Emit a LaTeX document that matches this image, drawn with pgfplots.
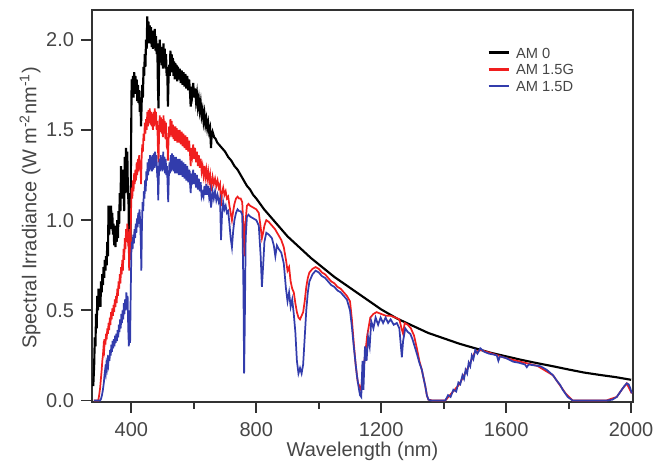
\documentclass[border=0pt]{standalone}
\usepackage{fontspec}
\setmainfont{Liberation Sans}
\usepackage{pgfplots}
\pgfplotsset{compat=1.18}
\usetikzlibrary{calc}
\definecolor{txtgray}{RGB}{70,70,70}
\definecolor{axgray}{RGB}{50,50,50}
\definecolor{amred}{RGB}{240,30,30}
\definecolor{amblue}{RGB}{50,60,172}
\begin{document}
\begin{tikzpicture}
\begin{axis}[
  scale only axis, width=405.75pt, height=294pt,
  xmin=274, xmax=2006, ymin=-0.008, ymax=2.165,
  xtick={400,800,1200,1600,2000},
  minor xtick={600,1000,1400,1800},
  ytick={0,0.5,1,1.5,2},
  yticklabel style={/pgf/number format/.cd, fixed, fixed zerofill, precision=1},
  /pgf/number format/assume math mode=true,
  xticklabel style={/pgf/number format/1000 sep={}},
  tick align=outside, xtick pos=bottom, ytick pos=left,
  major tick length=8pt, minor tick length=5pt,
  xticklabel shift=4pt, yticklabel shift=2pt,
  tick style={axgray, line width=1.4pt},
  axis line style={axgray, line width=1pt},
  tick label style={font=\fontsize{15}{18}\selectfont, text=txtgray},
  label style={font=\fontsize{15}{18}\selectfont, text=txtgray},
  xlabel={Wavelength (nm)},
  ylabel={Spectral Irradiance (W m\textsuperscript{-2}nm\textsuperscript{-1})},
  xlabel style={at={(axis description cs:0.5,-0.125)}, anchor=center},
  ylabel style={at={(axis description cs:-0.1146,0.495)}, anchor=center},
  legend style={at={(axis description cs:0.73,0.905)}, anchor=north west, draw=none, fill=none,
    font=\fontsize{11}{13}\selectfont, text=txtgray, row sep=4.5pt, inner sep=0pt,
    nodes={inner sep=0pt, text height=8pt, text depth=0pt},
    /tikz/every odd column/.append style={column sep=4pt}},
  legend cell align=left,
  legend image code/.code={\draw[#1, line width=2pt] (0cm,0cm) -- (0.55cm,0cm);},
]
\addplot[black, line width=1.6pt] coordinates {
(278,0.08)(281,0.20)(283,0.35)(285,0.30)(287,0.48)(289,0.40)(291,0.58)(293,0.50)(295,0.62)(297,0.55)(299,0.60)(301,0.52)(303,0.66)(305,0.60)(307,0.70)(309,0.64)(311,0.74)(313,0.68)(315,0.78)(317,0.72)(319,0.80)(321,0.75)(323,0.88)(325,0.80)(327,1.08)(329,0.92)(331,1.05)(333,0.98)(335,1.08)(337,0.95)(339,1.04)(341,0.92)(343,0.98)(345,0.86)(347,0.95)(349,0.85)(351,0.97)(353,0.88)(355,1.00)(357,0.90)(359,1.05)(361,0.98)(363,1.15)(365,1.05)(367,1.30)(369,1.18)(371,1.28)(373,1.12)(375,1.22)(377,1.05)(379,1.35)(381,1.15)(383,1.40)(385,1.22)(387,1.38)(389,1.15)(391,1.10)(393,0.80)(395,1.15)(397,0.82)(399,1.40)(401,1.78)(403,1.70)(405,1.80)(407,1.68)(409,1.82)(411,1.72)(413,1.80)(415,1.70)(417,1.78)(419,1.66)(421,1.75)(423,1.65)(425,1.72)(427,1.60)(429,1.68)(431,1.52)(433,1.65)(435,1.75)(437,1.68)(439,1.85)(441,1.80)(443,1.92)(445,1.85)(447,2.00)(449,1.95)(451,2.13)(453,2.02)(455,2.10)(457,1.98)(459,2.08)(461,2.00)(463,2.07)(465,1.96)(467,2.05)(469,1.95)(471,2.04)(473,1.96)(475,2.06)(477,1.94)(479,2.02)(481,1.92)(483,1.98)(485,1.75)(487,1.62)(489,1.90)(491,2.00)(493,1.88)(495,1.96)(497,1.86)(499,1.94)(501,1.84)(503,1.98)(505,1.86)(507,1.95)(509,1.84)(511,1.92)(513,1.80)(515,1.85)(517,1.63)(519,1.78)(521,1.86)(523,1.80)(525,1.94)(527,1.84)(529,1.92)(531,1.82)(533,1.90)(535,1.80)(537,1.88)(539,1.78)(541,1.87)(543,1.78)(545,1.86)(547,1.77)(549,1.85)(552,1.78)(555,1.84)(558,1.76)(561,1.83)(564,1.75)(567,1.82)(570,1.74)(573,1.81)(576,1.73)(579,1.80)(582,1.72)(585,1.78)(588,1.70)(590,1.63)(592,1.74)(595,1.70)(598,1.76)(601,1.68)(604,1.73)(607,1.66)(610,1.70)(613,1.63)(616,1.67)(619,1.61)(622,1.65)(625,1.58)(628,1.61)(631,1.55)(634,1.59)(637,1.53)(640,1.56)(643,1.51)(646,1.54)(649,1.49)(652,1.51)(655,1.40)(657,1.47)(660,1.49)(665,1.46)(670,1.45)(675,1.43)(680,1.42)(690,1.40)(700,1.38)(710,1.35)(720,1.33)(730,1.30)(740,1.28)(750,1.25)(760,1.22)(770,1.19)(780,1.17)(790,1.14)(800,1.12)(825,1.06)(850,1.01)(875,0.96)(900,0.91)(925,0.87)(950,0.83)(975,0.79)(1000,0.755)(1025,0.72)(1050,0.685)(1075,0.655)(1100,0.625)(1125,0.595)(1150,0.565)(1175,0.535)(1200,0.505)(1225,0.48)(1250,0.455)(1275,0.435)(1300,0.415)(1325,0.395)(1350,0.375)(1400,0.345)(1450,0.315)(1500,0.29)(1550,0.265)(1600,0.245)(1650,0.225)(1700,0.207)(1750,0.19)(1800,0.172)(1850,0.155)(1900,0.142)(1950,0.13)(2000,0.115)
};
\addlegendentry{AM 0}
\addplot[amred, line width=1.3pt] coordinates {
(280,0)(294,0)(297,0.03)(300,0.07)(303,0.13)(305,0.17)(307,0.22)(309,0.25)(311,0.30)(313,0.28)(315,0.34)(317,0.31)(319,0.37)(321,0.34)(323,0.40)(325,0.37)(327,0.43)(329,0.39)(331,0.46)(333,0.42)(335,0.49)(337,0.45)(339,0.51)(341,0.47)(343,0.53)(345,0.49)(347,0.56)(349,0.52)(351,0.58)(353,0.54)(355,0.62)(357,0.58)(359,0.66)(361,0.62)(363,0.70)(365,0.65)(367,0.74)(369,0.70)(371,0.78)(373,0.72)(375,0.84)(377,0.78)(379,0.90)(381,0.84)(383,0.95)(385,0.88)(387,0.98)(389,0.90)(391,0.92)(393,0.72)(395,0.95)(397,0.78)(399,1.05)(401,1.18)(403,1.12)(405,1.22)(407,1.16)(409,1.26)(411,1.20)(413,1.28)(415,1.22)(417,1.32)(419,1.25)(421,1.34)(423,1.27)(425,1.36)(427,1.28)(429,1.32)(431,1.20)(433,1.35)(435,1.42)(437,1.38)(439,1.48)(441,1.44)(443,1.54)(445,1.48)(447,1.56)(449,1.50)(451,1.60)(453,1.52)(455,1.61)(457,1.54)(459,1.62)(461,1.53)(463,1.60)(465,1.52)(467,1.59)(469,1.50)(471,1.60)(473,1.52)(475,1.62)(477,1.53)(479,1.60)(481,1.50)(483,1.55)(485,1.40)(487,1.32)(489,1.50)(491,1.58)(493,1.49)(495,1.57)(497,1.48)(499,1.56)(501,1.46)(503,1.58)(505,1.48)(507,1.55)(509,1.45)(511,1.54)(513,1.44)(515,1.46)(517,1.33)(519,1.44)(521,1.52)(523,1.46)(525,1.56)(527,1.47)(529,1.55)(531,1.46)(533,1.53)(535,1.45)(537,1.52)(539,1.44)(541,1.52)(543,1.44)(545,1.51)(547,1.43)(549,1.50)(552,1.43)(555,1.50)(558,1.42)(561,1.49)(564,1.41)(567,1.48)(570,1.40)(573,1.47)(576,1.39)(579,1.46)(582,1.38)(585,1.44)(588,1.36)(590,1.30)(592,1.40)(595,1.36)(598,1.42)(601,1.34)(604,1.40)(607,1.32)(610,1.38)(613,1.30)(616,1.36)(619,1.29)(622,1.34)(625,1.27)(628,1.30)(631,1.25)(634,1.30)(637,1.24)(640,1.28)(643,1.23)(646,1.27)(649,1.22)(652,1.25)(655,1.16)(657,1.20)(660,1.24)(664,1.20)(668,1.23)(672,1.19)(676,1.22)(680,1.18)(684,1.20)(687,1.08)(690,1.15)(694,1.18)(698,1.14)(702,1.16)(706,1.12)(710,1.13)(714,1.08)(718,1.04)(722,1.00)(726,1.05)(730,1.09)(735,1.12)(740,1.13)(745,1.12)(750,1.12)(755,1.10)(759,0.95)(762,0.80)(765,0.98)(770,1.08)(775,1.09)(780,1.08)(790,1.07)(800,1.06)(808,1.04)(814,0.96)(818,0.90)(822,0.93)(826,0.97)(832,1.00)(840,0.99)(850,0.97)(860,0.95)(870,0.92)(880,0.89)(888,0.85)(895,0.78)(900,0.72)(905,0.74)(910,0.66)(915,0.62)(920,0.60)(925,0.54)(930,0.49)(935,0.46)(940,0.45)(945,0.47)(950,0.49)(955,0.55)(960,0.63)(965,0.68)(970,0.71)(980,0.73)(990,0.74)(1000,0.73)(1010,0.71)(1020,0.70)(1030,0.68)(1040,0.66)(1050,0.65)(1060,0.63)(1070,0.62)(1080,0.60)(1090,0.58)(1100,0.55)(1106,0.45)(1112,0.32)(1118,0.20)(1125,0.10)(1135,0.06)(1145,0.20)(1155,0.36)(1165,0.46)(1175,0.48)(1185,0.49)(1200,0.48)(1215,0.47)(1230,0.47)(1245,0.46)(1258,0.45)(1265,0.40)(1270,0.37)(1275,0.43)(1285,0.42)(1295,0.40)(1305,0.36)(1314,0.29)(1322,0.22)(1330,0.17)(1336,0.12)(1341,0.08)(1346,0.03)(1351,0.005)(1365,0)(1405,0)(1420,0.03)(1450,0.09)(1480,0.19)(1500,0.27)(1520,0.28)(1600,0.235)(1700,0.192)(1750,0.14)(1790,0.04)(1813,0)(1920,0)(1954,0.02)(1970,0.06)(1986,0.095)(2002,0.04)
};
\addlegendentry{AM 1.5G}
\addplot[amblue, line width=1.3pt] coordinates {
(280,0)(300,0)(303,0.01)(306,0.03)(309,0.06)(312,0.10)(314,0.14)(316,0.17)(318,0.15)(320,0.20)(322,0.18)(324,0.22)(326,0.20)(328,0.25)(330,0.22)(332,0.28)(334,0.25)(336,0.31)(338,0.27)(340,0.33)(342,0.29)(344,0.34)(346,0.30)(348,0.36)(350,0.32)(352,0.37)(354,0.33)(356,0.39)(358,0.35)(360,0.42)(362,0.38)(364,0.45)(366,0.40)(368,0.48)(370,0.43)(372,0.50)(374,0.45)(376,0.54)(378,0.48)(380,0.56)(382,0.50)(384,0.60)(386,0.52)(388,0.58)(390,0.40)(392,0.30)(394,0.50)(396,0.32)(398,0.60)(400,0.82)(402,0.88)(404,0.84)(406,0.92)(408,0.87)(410,0.95)(412,0.90)(414,0.98)(416,0.93)(418,1.01)(420,0.96)(422,1.04)(424,0.98)(426,1.06)(428,1.00)(430,0.90)(432,0.72)(434,0.98)(436,1.10)(438,1.05)(440,1.16)(442,1.12)(444,1.22)(446,1.16)(448,1.27)(450,1.22)(452,1.32)(454,1.25)(456,1.34)(458,1.27)(460,1.36)(462,1.28)(464,1.35)(466,1.27)(468,1.36)(470,1.28)(472,1.37)(474,1.29)(476,1.38)(478,1.30)(480,1.36)(482,1.28)(484,1.30)(486,1.11)(488,1.24)(490,1.34)(492,1.27)(494,1.36)(496,1.28)(498,1.35)(500,1.27)(502,1.38)(504,1.28)(506,1.35)(508,1.26)(510,1.34)(512,1.25)(514,1.30)(516,1.20)(518,1.10)(520,1.24)(522,1.32)(524,1.26)(526,1.36)(528,1.27)(530,1.37)(532,1.28)(534,1.36)(536,1.27)(538,1.35)(540,1.26)(543,1.35)(546,1.26)(549,1.34)(552,1.25)(555,1.34)(558,1.25)(561,1.33)(564,1.24)(567,1.32)(570,1.23)(573,1.31)(576,1.22)(579,1.30)(582,1.21)(585,1.28)(588,1.20)(590,1.15)(592,1.24)(595,1.22)(598,1.28)(601,1.20)(604,1.26)(607,1.18)(610,1.25)(613,1.17)(616,1.23)(619,1.16)(622,1.21)(625,1.13)(628,1.15)(631,1.13)(634,1.19)(637,1.14)(640,1.20)(643,1.14)(646,1.19)(649,1.13)(652,1.16)(655,1.07)(657,1.10)(660,1.16)(664,1.12)(668,1.16)(672,1.11)(676,1.14)(680,1.10)(684,1.12)(687,0.89)(690,1.02)(694,1.10)(698,1.06)(702,1.08)(706,1.04)(710,1.05)(714,0.98)(718,0.90)(722,0.85)(726,0.94)(730,1.00)(735,1.04)(740,1.06)(745,1.05)(750,1.05)(755,1.03)(759,0.60)(761,0.15)(763,0.40)(766,0.90)(770,1.02)(775,1.03)(780,1.02)(790,1.01)(800,1.00)(808,0.97)(814,0.80)(818,0.63)(822,0.75)(826,0.88)(832,0.93)(840,0.92)(850,0.90)(856,0.86)(861,0.80)(866,0.86)(872,0.84)(880,0.82)(888,0.76)(895,0.62)(900,0.55)(905,0.60)(910,0.52)(915,0.56)(920,0.48)(925,0.38)(930,0.22)(935,0.15)(940,0.18)(945,0.15)(950,0.20)(955,0.35)(960,0.50)(965,0.60)(970,0.66)(980,0.70)(990,0.72)(1000,0.71)(1010,0.69)(1020,0.68)(1030,0.66)(1040,0.64)(1050,0.63)(1060,0.61)(1070,0.60)(1080,0.58)(1090,0.56)(1100,0.50)(1106,0.41)(1112,0.30)(1117,0.22)(1122,0.14)(1127,0.08)(1132,0.03)(1136,0.02)(1140,0.22)(1143,0.06)(1148,0.30)(1153,0.22)(1158,0.35)(1163,0.30)(1168,0.44)(1175,0.40)(1182,0.46)(1190,0.42)(1198,0.46)(1206,0.43)(1214,0.46)(1222,0.43)(1230,0.45)(1240,0.42)(1250,0.43)(1258,0.40)(1263,0.30)(1266,0.24)(1270,0.33)(1277,0.40)(1285,0.38)(1293,0.37)(1300,0.34)(1307,0.30)(1314,0.26)(1322,0.21)(1330,0.17)(1336,0.12)(1341,0.08)(1346,0.03)(1351,0.005)(1360,0)(1405,0)(1414,0.03)(1422,0.02)(1431,0.06)(1440,0.05)(1447,0.10)(1453,0.09)(1460,0.14)(1465,0.12)(1470,0.17)(1475,0.15)(1480,0.21)(1485,0.19)(1490,0.25)(1495,0.23)(1501,0.28)(1508,0.26)(1517,0.29)(1530,0.27)(1545,0.26)(1560,0.255)(1570,0.25)(1575,0.22)(1580,0.245)(1600,0.235)(1623,0.215)(1640,0.21)(1660,0.20)(1666,0.185)(1672,0.20)(1690,0.195)(1710,0.19)(1730,0.17)(1750,0.14)(1762,0.11)(1773,0.086)(1781,0.06)(1789,0.04)(1797,0.02)(1805,0.01)(1813,0)(1920,0)(1940,0.005)(1954,0.02)(1962,0.04)(1970,0.06)(1978,0.08)(1986,0.095)(1992,0.09)(1997,0.07)(2002,0.04)
};
\addlegendentry{AM 1.5D}
\end{axis}
\foreach \f/\l in {0.0727/8pt,0.1882/5pt,0.3037/8pt,0.4192/5pt,0.5346/8pt,0.6501/5pt,0.7656/8pt,0.8811/5pt,0.9965/8pt}{
  \draw[axgray, line width=1.4pt] ($(current axis.south west)!\f!(current axis.south east)$) -- ++(0pt,-\l);
}
\foreach \f in {0.00368,0.23383,0.46398,0.69413,0.92428}{
  \draw[axgray, line width=1.4pt] ($(current axis.south west)!\f!(current axis.north west)$) -- ++(-8pt,0pt);
}
\path ([shift={(-69pt,-48pt)}]current axis.south west) rectangle ([shift={(27pt,7.5pt)}]current axis.north east);
\end{tikzpicture}
\end{document}
